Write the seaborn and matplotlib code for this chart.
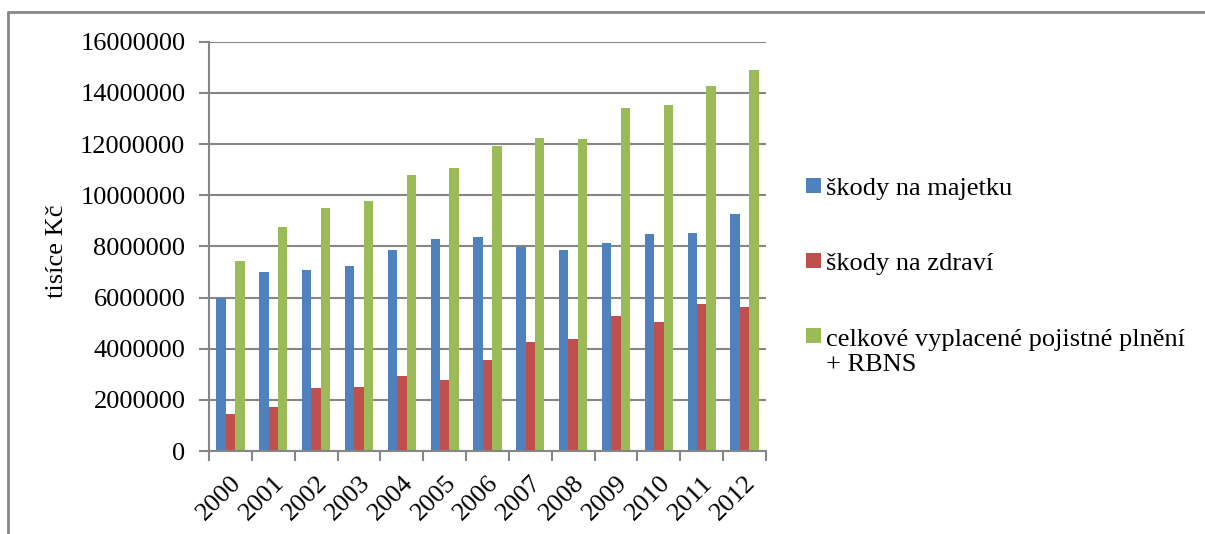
import matplotlib
matplotlib.use("Agg")
import matplotlib.pyplot as plt
from matplotlib.patches import Rectangle
from matplotlib.legend_handler import HandlerPatch
from matplotlib.lines import Line2D
from matplotlib.ticker import FixedLocator
import numpy as np
import pandas as pd
import seaborn as sns

# Annual claims, thousands of CZK
years = ["2000", "2001", "2002", "2003", "2004", "2005", "2006",
         "2007", "2008", "2009", "2010", "2011", "2012"]
skody_majetek = [6000000, 7000000, 7070000, 7240000, 7860000, 8290000, 8360000,
                 7990000, 7840000, 8120000, 8500000, 8520000, 9260000]
skody_zdravi = [1460000, 1730000, 2460000, 2510000, 2940000, 2760000, 3560000,
                4250000, 4360000, 5280000, 5030000, 5760000, 5640000]
celkem_rbns = [7440000, 8740000, 9510000, 9760000, 10800000, 11050000, 11920000,
               12220000, 12210000, 13390000, 13510000, 14280000, 14890000]

series_names = ["škody na majetku", "škody na zdraví",
                "celkové vyplacené pojistné plnění\n+ RBNS"]
colors = ["#4F81BD", "#C0504D", "#9BBB59"]

df = pd.DataFrame({
    "rok": years * 3,
    "hodnota": skody_majetek + skody_zdravi + celkem_rbns,
    "řada": [series_names[0]] * len(years) + [series_names[1]] * len(years)
            + [series_names[2]] * len(years),
})

sns.set_theme(style="white")
plt.rcParams["font.family"] = ["Liberation Serif", "DejaVu Serif"]
plt.rcParams["text.color"] = "black"
plt.rcParams["xtick.labelcolor"] = "black"
plt.rcParams["ytick.labelcolor"] = "black"
FS = 19
GRID = "#868686"

fig = plt.figure(figsize=(12.05, 5.34), dpi=100)
ax = fig.add_axes([209 / 1205, 1 - 451 / 534, 557 / 1205, (451 - 41.7) / 534])

sns.barplot(data=df, x="rok", y="hodnota", hue="řada", order=years,
            hue_order=series_names, palette=colors, width=0.66, gap=0,
            saturation=1, edgecolor="none", linewidth=0, ax=ax, legend=False)

ax.set_xlim(-0.5, len(years) - 0.5)
ax.set_ylim(0, 16000000)
ax.set_yticks(np.arange(0, 16000001, 2000000))
ax.set_yticklabels([f"{int(v)}" for v in np.arange(0, 16000001, 2000000)],
                   fontsize=FS, color="black")
ax.yaxis.grid(True, color=GRID, linewidth=1.5)
ax.set_axisbelow(True)

# Category labels at centres, tick marks at category boundaries
ax.set_xticks(range(len(years)))
ax.set_xticklabels(years, rotation=45, ha="right", rotation_mode="anchor",
                   fontsize=FS, color="black")
ax.xaxis.set_minor_locator(FixedLocator(np.arange(-0.5, len(years), 1.0)))
ax.tick_params(axis="x", which="major", length=0, pad=15)
ax.tick_params(axis="x", which="minor", length=7, width=1.5, color=GRID,
               direction="out", bottom=True)
ax.tick_params(axis="y", which="major", length=7, width=1.5, color=GRID,
               direction="out", left=True, pad=10)

for side in ["top", "right"]:
    ax.spines[side].set_visible(False)
for side in ["left", "bottom"]:
    ax.spines[side].set_color(GRID)
    ax.spines[side].set_linewidth(1.5)

ax.set_xlabel("")
ax.set_ylabel("")
fig.text(57 / 1205, 1 - 251 / 534, "tisíce Kč", rotation=90, fontsize=FS,
         ha="center", va="center", color="black")


class TopAlignedPatch(HandlerPatch):
    """Square marker aligned with the first line of a two-line label."""

    def create_artists(self, legend, orig_handle, xdescent, ydescent,
                       width, height, fontsize, trans):
        s = height
        p = Rectangle((-xdescent, -ydescent + 0.6 * fontsize), s, s,
                      facecolor=orig_handle.get_facecolor(), edgecolor="none")
        p.set_transform(trans)
        return [p]


class SquarePatch(HandlerPatch):
    def create_artists(self, legend, orig_handle, xdescent, ydescent,
                       width, height, fontsize, trans):
        s = height
        p = Rectangle((-xdescent, -ydescent), s, s,
                      facecolor=orig_handle.get_facecolor(), edgecolor="none")
        p.set_transform(trans)
        return [p]


handles = [Rectangle((0, 0), 1, 1, facecolor=c, edgecolor="none") for c in colors]
hmap = {handles[0]: SquarePatch(), handles[1]: SquarePatch(),
        handles[2]: TopAlignedPatch()}
leg = fig.legend(handles, series_names, handler_map=hmap,
                 loc="upper left", bbox_to_anchor=(806 / 1205, 1 - 178 / 534),
                 frameon=False, fontsize=FS, handlelength=0.5, handleheight=0.5,
                 handletextpad=0.25, labelspacing=2.02, borderpad=0,
                 borderaxespad=0)
for t in leg.get_texts():
    t.set_color("black")

# Outer chart frame (top and left edges)
fig.add_artist(Line2D([8 / 1205, 1.0], [1 - 11.5 / 534, 1 - 11.5 / 534],
                      transform=fig.transFigure, color="#878787", linewidth=2))
fig.add_artist(Line2D([8 / 1205, 8 / 1205], [0.0, 1 - 11.5 / 534],
                      transform=fig.transFigure, color="#878787", linewidth=2))

fig.savefig("out.png", dpi=100, facecolor="white")
